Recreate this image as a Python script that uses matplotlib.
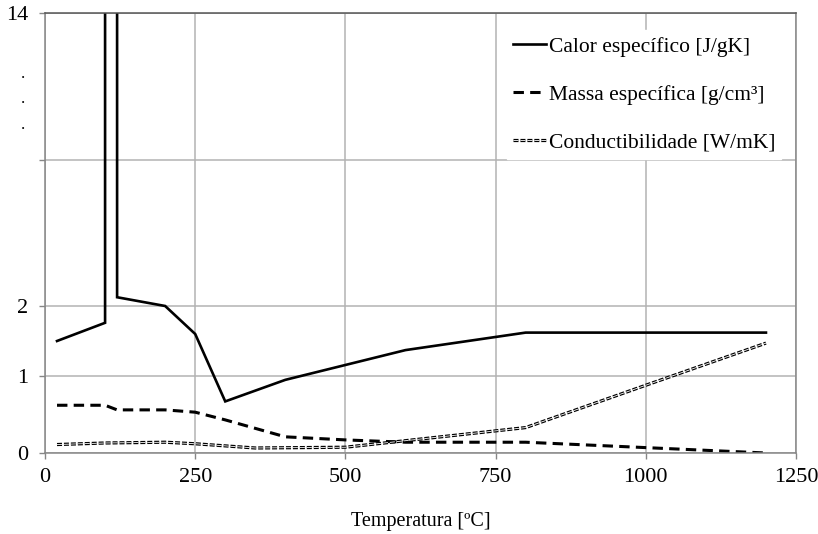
import numpy as np
import matplotlib
matplotlib.use('Agg')
import matplotlib.pyplot as plt
from matplotlib.lines import Line2D

plt.rcParams['font.family'] = ['Liberation Serif', 'DejaVu Serif']
plt.rcParams['lines.scale_dashes'] = False

# data (in the units of the y axis)
temp_calor = [20, 100, 100, 120, 120, 200, 250, 300, 400, 600, 800, 1200]
calor = [1.5, 1.76, 30, 30, 2.06, 2.0, 1.6, 0.67, 0.95, 1.37, 1.62, 1.62]

temp_massa = [20, 100, 120, 200, 250, 300, 400, 500, 600, 800, 1000, 1200]
massa = [0.62, 0.62, 0.56, 0.56, 0.53, 0.43, 0.21, 0.17, 0.14, 0.14, 0.07, 0.0]

temp_cond = [20, 100, 200, 250, 350, 500, 600, 800, 1000, 1200]
cond = [0.11, 0.13, 0.14, 0.12, 0.065, 0.075, 0.16, 0.33, 0.88, 1.47]

x_ticks = [0, 250, 500, 750, 1000, 1250]
y_ticks = [0, 1, 2, 3, 14]
y_labels = ['0', '1', '2', '', '14']
dot_ticks = [5.8, 7.7, 9.6]

# broken (piecewise linear) y scale
brk_v = np.array([0, 1, 2, 3, 14, 200])
brk_p = np.array([0, 77, 147, 293, 440, 440 + 186 * 147 / 11])


def fwd(v):
    return np.interp(v, brk_v, brk_p)


def inv(p):
    return np.interp(p, brk_p, brk_v)


fig = plt.figure(figsize=(8.18, 5.34), dpi=100)
ax = fig.add_axes([45 / 818, 1 - 453 / 534, 751 / 818, 440 / 534])
ax.set_yscale('function', functions=(fwd, inv))

l1, = ax.plot(temp_calor, calor, color='black', lw=1.9, solid_joinstyle='miter')
l2, = ax.plot(temp_massa, massa, color='black', lw=2.2, dashes=(7.5, 4.5))
ax.plot(temp_cond, cond, color='black', lw=2.3, dashes=(3.6, 1.4))
ax.plot(temp_cond, cond, color='white', lw=0.6, dashes=(3.6, 1.4))

ax.set_xlim(0, 1250)
ax.set_ylim(0, 14)
ax.set_xticks(x_ticks)
ax.set_yticks(y_ticks)
ax.set_yticklabels(y_labels)
ax.set_yticks(dot_ticks, minor=True)
ax.set_yticklabels(['.'] * 3, minor=True)
ax.tick_params(axis='y', which='minor', length=0, pad=14, labelsize=12)
ax.tick_params(which='major', length=4, color='#868686', width=1, labelsize=16)
ax.tick_params(axis='y', which='major', pad=8)
ax.tick_params(axis='x', which='major', pad=7)

ax.grid(True, which='major', color='#b3b3b3', lw=1.1)
ax.set_axisbelow(True)
for s in ax.spines.values():
    s.set_color('#868686')
    s.set_linewidth(1.1)
ax.spines['top'].set_color('#555555')

ax.set_xlabel('Temperatura [ºC]', fontsize=14.5, labelpad=18)

# legend handle for conductivity: black dashes with white core
h3a = Line2D([], [], color='black', lw=2.3, dashes=(3.6, 1.4))
h3b = Line2D([], [], color='white', lw=0.6, dashes=(3.6, 1.4))
leg = ax.legend([l1, l2, (h3a, h3b)],
                ['Calor específico [J/gK]', 'Massa específica [g/cm³]',
                 'Conductibilidade [W/mK]'],
                loc='upper right', bbox_to_anchor=(0.995, 0.985),
                frameon=True, fancybox=False, edgecolor='white',
                framealpha=1, fontsize=15.5, handlelength=1.55,
                handletextpad=0.1, labelspacing=1.28, borderpad=0.3)

fig.savefig('out.png', dpi=100)
